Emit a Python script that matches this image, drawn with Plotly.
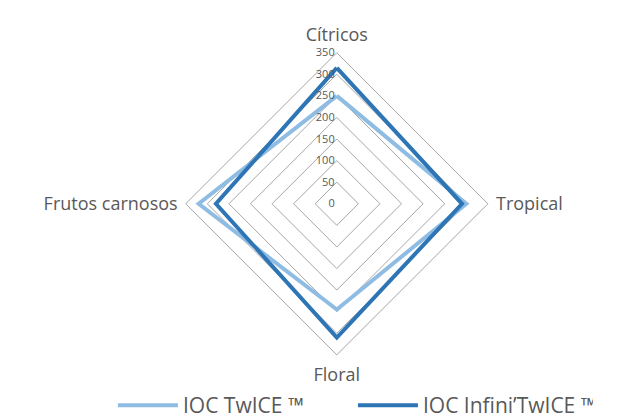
import plotly.graph_objects as go

categories = ["Cítricos", "Tropical", "Floral", "Frutos carnosos"]
twice = [250, 300, 245, 320]
infini = [315, 290, 310, 280]
series_names = ["IOC TwICE ™", "IOC Infini’TwICE ™"]
colors = ["#8FBCE3", "#2E75B6"]

FONT = "Open Sans"
GREY = "#595959"

fig = go.Figure()
for name, vals, col in zip(series_names, [twice, infini], colors):
    fig.add_trace(go.Scatterpolar(
        r=vals + vals[:1],
        theta=categories + categories[:1],
        mode="lines",
        name=name,
        line=dict(color=col, width=4),
    ))

fig.update_layout(
    width=636, height=418,
    margin=dict(l=0, r=0, t=0, b=0),
    paper_bgcolor="white",
    font=dict(family=FONT, color=GREY),
    polar=dict(
        domain=dict(x=[0.275, 0.759], y=[0.154, 0.891]),
        bgcolor="white",
        gridshape="linear",
        radialaxis=dict(
            range=[0, 350], dtick=50, tick0=0,
            angle=90, tickangle=90, side="counterclockwise",
            showline=False, ticks="",
            gridcolor="#A6A6A6", gridwidth=1,
            tickfont=dict(size=11, color=GREY, family=FONT),
        ),
        angularaxis=dict(
            rotation=90, direction="clockwise",
            showgrid=False, showline=True,
            linecolor="#A6A6A6", linewidth=1,
            ticks="outside", ticklen=4, tickcolor="rgba(0,0,0,0)",
            tickfont=dict(size=18, color=GREY, family=FONT),
        ),
    ),
    legend=dict(
        orientation="h", x=0.165, xanchor="left", y=0.03, yanchor="middle",
        bgcolor="rgba(0,0,0,0)",
        font=dict(size=21, color=GREY, family=FONT),
        itemwidth=60, entrywidth=165,
    ),
)

fig.write_html("out.html")
